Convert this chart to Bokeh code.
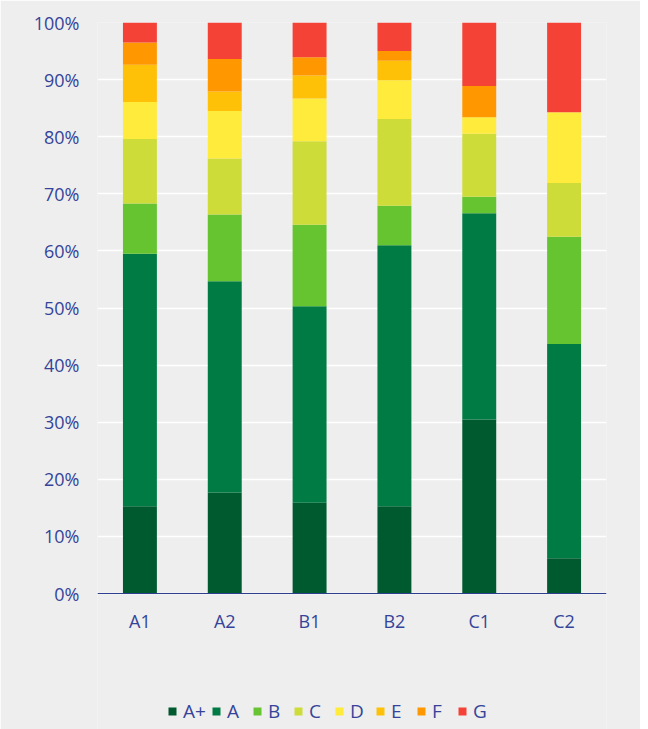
from bokeh.plotting import figure
from bokeh.models import Range1d, FixedTicker, NumeralTickFormatter, Legend
from bokeh.embed import file_html
from bokeh.resources import INLINE

categories = ["A1", "A2", "B1", "B2", "C1", "C2"]
grades = ["A+", "A", "B", "C", "D", "E", "F", "G"]

a_plus = [0.153, 0.177, 0.159, 0.153, 0.305, 0.062]
a_     = [0.442, 0.370, 0.344, 0.457, 0.361, 0.375]
b_     = [0.088, 0.117, 0.143, 0.069, 0.029, 0.188]
c_     = [0.113, 0.098, 0.146, 0.152, 0.110, 0.094]
d_     = [0.065, 0.083, 0.075, 0.068, 0.029, 0.124]
e_     = [0.065, 0.034, 0.040, 0.034, 0.000, 0.000]
f_     = [0.039, 0.057, 0.032, 0.017, 0.055, 0.000]
g_     = [0.035, 0.064, 0.061, 0.050, 0.111, 0.157]

colors = ["#005a30", "#007b43", "#66c430", "#cddc39", "#ffeb3b", "#ffc107", "#ff9800", "#f44336"]

source = dict(cat=categories)
for g, vals in zip(grades, [a_plus, a_, b_, c_, d_, e_, f_, g_]):
    source[g] = vals

BG = "#eeeeee"
TXT = "#34449a"
FONT = "Open Sans"

# frame extends below 0 so that the legend can sit inside it under the axis
p = figure(x_range=categories, y_range=Range1d(-0.238, 1),
           frame_width=509, frame_height=707,
           output_backend="svg", toolbar_location=None,
           background_fill_color=BG, border_fill_color=BG,
           min_border_left=97, min_border_right=34, min_border_top=22, min_border_bottom=0)
p.outline_line_color = None

rs = p.vbar_stack(grades, x="cat", width=0.4, source=source, color=colors, line_color=None)

ticks = [i / 10 for i in range(11)]
p.ygrid.ticker = FixedTicker(ticks=ticks)
p.ygrid.grid_line_color = "white"
p.ygrid.grid_line_width = 1.5
p.xgrid.grid_line_color = None

p.yaxis.ticker = FixedTicker(ticks=ticks)
p.yaxis.formatter = NumeralTickFormatter(format="0%")
p.yaxis.axis_line_color = None
p.yaxis.major_tick_line_color = None
p.yaxis.minor_tick_line_color = None
p.yaxis.major_label_standoff = 12
p.yaxis.major_label_text_color = TXT
p.yaxis.major_label_text_font = FONT
p.yaxis.major_label_text_font_size = "18px"

p.xaxis.fixed_location = 0
p.xaxis.axis_line_color = "#2f3f8f"
p.xaxis.axis_line_width = 1.2
p.xaxis.major_tick_line_color = None
p.xaxis.minor_tick_line_color = None
p.xaxis.major_label_standoff = 9
p.xaxis.major_label_text_color = TXT
p.xaxis.major_label_text_font = FONT
p.xaxis.major_label_text_font_size = "18px"

legend = Legend(items=[(g, [r]) for g, r in zip(grades, rs)],
                orientation="horizontal", location=(70, 5),
                background_fill_alpha=0, border_line_color=None,
                glyph_width=10, glyph_height=10, label_standoff=6, spacing=5,
                padding=0, margin=0,
                label_text_color=TXT, label_text_font=FONT, label_text_font_size="19px")
p.add_layout(legend, "center")

open("out.html", "w").write(file_html(p, INLINE))
